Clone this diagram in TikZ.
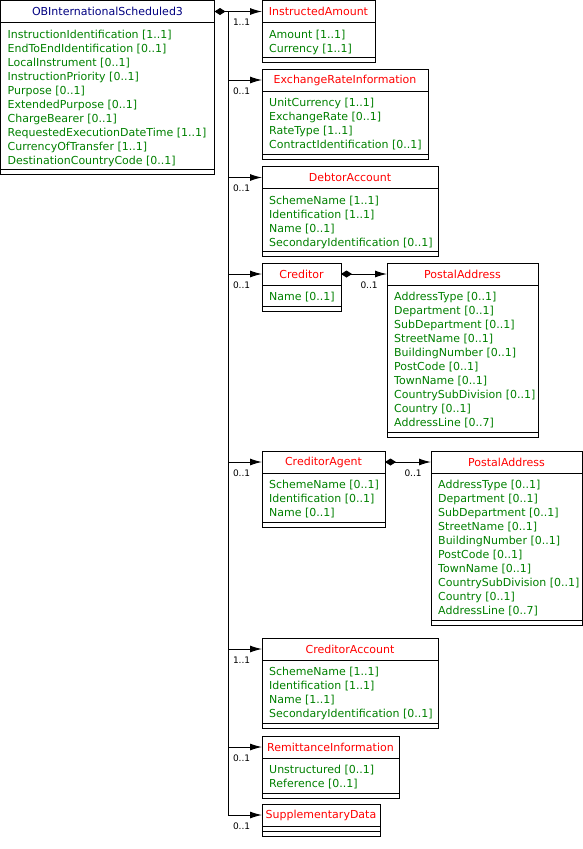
\documentclass[tikz,border=0pt]{standalone}
\usepackage{fontspec}
\setmainfont{DejaVu Sans}
\usepackage{tikz}
\usetikzlibrary{arrows.meta, positioning}
\definecolor{rootblue}{RGB}{0, 0, 128}
\definecolor{classred}{RGB}{255, 0, 0}
\definecolor{attrgreen}{RGB}{0, 128, 0}

\begin{document}
\begin{tikzpicture}[x=1pt, y=-1pt,
    head/.style={draw, line width=1pt, anchor=north west, outer sep=0pt,
                 inner sep=0pt, minimum height=22pt, text=classred,
                 font=\fontsize{11}{14}\selectfont},
    body/.style={draw, line width=1pt, anchor=north west, outer sep=0pt,
                 inner sep=0pt},
    attrs/.style={anchor=north west, inner sep=0pt, xshift=7pt, yshift=-7pt,
                  align=left, text=attrgreen, font=\fontsize{11}{14}\selectfont},
    foot/.style={draw, line width=1pt, anchor=north west, outer sep=0pt,
                 inner sep=0pt, minimum height=5pt},
    mult/.style={anchor=north west, inner sep=0pt, yshift=-7pt,
                 font=\fontsize{9}{10}\selectfont},
    assoc/.style={line width=1pt, -{Latex[length=12pt, width=7pt]}},
    owns/.style={line width=1pt, {Diamond[length=11pt, width=7pt]}-},
    link/.style={line width=1pt,
                 {Diamond[length=11pt, width=7pt]}-{Latex[length=12pt, width=7pt]}}
]
    \useasboundingbox (0,0) rectangle (583,849);

    % Root class
    \node[head, minimum width=214pt, text=rootblue] (root) at (0.5,0.5)
        {OBInternationalScheduled3};
    \node[body, minimum width=214pt, minimum height=147pt] (root-body) at (root.south west) {};
    \node[attrs] (root-attrs) at (root-body.north west)
        {InstructionIdentification [1..1]\\EndToEndIdentification [0..1]\\
         LocalInstrument [0..1]\\InstructionPriority [0..1]\\Purpose [0..1]\\
         ExtendedPurpose [0..1]\\ChargeBearer [0..1]\\
         RequestedExecutionDateTime [1..1]\\CurrencyOfTransfer [1..1]\\
         DestinationCountryCode [0..1]};
    \node[foot, minimum width=214pt] (root-foot) at (root-body.south west) {};

    % InstructedAmount
    \node[head, minimum width=113pt] (amount) at (262,0.5) {InstructedAmount};
    \node[body, minimum width=113pt, minimum height=35pt] (amount-body) at (amount.south west) {};
    \node[attrs] (amount-attrs) at (amount-body.north west)
        {Amount [1..1]\\Currency [1..1]};
    \node[foot, minimum width=113pt] (amount-foot) at (amount-body.south west) {};

    % ExchangeRateInformation
    \node[head, minimum width=166pt] (rate) at (262,69) {ExchangeRateInformation};
    \node[body, minimum width=166pt, minimum height=63pt] (rate-body) at (rate.south west) {};
    \node[attrs] (rate-attrs) at (rate-body.north west)
        {UnitCurrency [1..1]\\ExchangeRate [0..1]\\RateType [1..1]\\
         ContractIdentification [0..1]};
    \node[foot, minimum width=166pt] (rate-foot) at (rate-body.south west) {};

    % DebtorAccount
    \node[head, minimum width=176pt] (debtor) at (262,166.5) {DebtorAccount};
    \node[body, minimum width=176pt, minimum height=63pt] (debtor-body) at (debtor.south west) {};
    \node[attrs] (debtor-attrs) at (debtor-body.north west)
        {SchemeName [1..1]\\Identification [1..1]\\Name [0..1]\\
         SecondaryIdentification [0..1]};
    \node[foot, minimum width=176pt] (debtor-foot) at (debtor-body.south west) {};

    % Creditor
    \node[head, minimum width=79pt] (creditor) at (262,263) {Creditor};
    \node[body, minimum width=79pt, minimum height=21pt] (creditor-body) at (creditor.south west) {};
    \node[attrs] (creditor-attrs) at (creditor-body.north west) {Name [0..1]};
    \node[foot, minimum width=79pt] (creditor-foot) at (creditor-body.south west) {};

    % Creditor PostalAddress
    \node[head, minimum width=151pt] (credaddr) at (387,263) {PostalAddress};
    \node[body, minimum width=151pt, minimum height=147pt] (credaddr-body) at (credaddr.south west) {};
    \node[attrs] (credaddr-attrs) at (credaddr-body.north west)
        {AddressType [0..1]\\Department [0..1]\\SubDepartment [0..1]\\
         StreetName [0..1]\\BuildingNumber [0..1]\\PostCode [0..1]\\
         TownName [0..1]\\CountrySubDivision [0..1]\\Country [0..1]\\
         AddressLine [0..7]};
    \node[foot, minimum width=151pt] (credaddr-foot) at (credaddr-body.south west) {};

    % CreditorAgent
    \node[head, minimum width=123pt] (agent) at (262,451) {CreditorAgent};
    \node[body, minimum width=123pt, minimum height=49pt] (agent-body) at (agent.south west) {};
    \node[attrs] (agent-attrs) at (agent-body.north west)
        {SchemeName [0..1]\\Identification [0..1]\\Name [0..1]};
    \node[foot, minimum width=123pt] (agent-foot) at (agent-body.south west) {};

    % CreditorAgent PostalAddress
    \node[head, minimum width=151pt] (agentaddr) at (431,451) {PostalAddress};
    \node[body, minimum width=151pt, minimum height=147pt] (agentaddr-body) at (agentaddr.south west) {};
    \node[attrs] (agentaddr-attrs) at (agentaddr-body.north west)
        {AddressType [0..1]\\Department [0..1]\\SubDepartment [0..1]\\
         StreetName [0..1]\\BuildingNumber [0..1]\\PostCode [0..1]\\
         TownName [0..1]\\CountrySubDivision [0..1]\\Country [0..1]\\
         AddressLine [0..7]};
    \node[foot, minimum width=151pt] (agentaddr-foot) at (agentaddr-body.south west) {};

    % CreditorAccount
    \node[head, minimum width=176pt] (account) at (262,638) {CreditorAccount};
    \node[body, minimum width=176pt, minimum height=63pt] (account-body) at (account.south west) {};
    \node[attrs] (account-attrs) at (account-body.north west)
        {SchemeName [1..1]\\Identification [1..1]\\Name [1..1]\\
         SecondaryIdentification [0..1]};
    \node[foot, minimum width=176pt] (account-foot) at (account-body.south west) {};

    % RemittanceInformation
    \node[head, minimum width=137pt] (remit) at (262,736) {RemittanceInformation};
    \node[body, minimum width=137pt, minimum height=35pt] (remit-body) at (remit.south west) {};
    \node[attrs] (remit-attrs) at (remit-body.north west)
        {Unstructured [0..1]\\Reference [0..1]};
    \node[foot, minimum width=137pt] (remit-foot) at (remit-body.south west) {};

    % SupplementaryData
    \node[head, minimum width=118pt] (supp) at (262,804) {SupplementaryData};
    \node[foot, minimum width=118pt] (supp-body) at (supp.south west) {};
    \node[foot, minimum width=118pt] (supp-foot) at (supp-body.south west) {};

    % Connectors
    \coordinate[right=14pt of root.east] (hub);
    \draw[owns] (root.east) -- (hub);
    \draw[line width=1pt] (hub) -- (hub |- supp.west);
    \draw[assoc] (hub) |- (amount.west) node[mult, pos=0.5, xshift=4pt] {1..1};
    \draw[assoc] (hub) |- (rate.west) node[mult, pos=0.5, xshift=4pt] {0..1};
    \draw[assoc] (hub) |- (debtor.west) node[mult, pos=0.5, xshift=4pt] {0..1};
    \draw[assoc] (hub) |- (creditor.west) node[mult, pos=0.5, xshift=4pt] {0..1};
    \draw[assoc] (hub) |- (agent.west) node[mult, pos=0.5, xshift=4pt] {0..1};
    \draw[assoc] (hub) |- (account.west) node[mult, pos=0.5, xshift=4pt] {1..1};
    \draw[assoc] (hub) |- (remit.west) node[mult, pos=0.5, xshift=4pt] {0..1};
    \draw[assoc] (hub) |- (supp.west) node[mult, pos=0.5, xshift=4pt] {0..1};
    \draw[link] (creditor.east) -- (credaddr.west) node[mult, pos=0, xshift=19pt] {0..1};
    \draw[link] (agent.east) -- (agentaddr.west) node[mult, pos=0, xshift=19pt] {0..1};
\end{tikzpicture}
\end{document}
